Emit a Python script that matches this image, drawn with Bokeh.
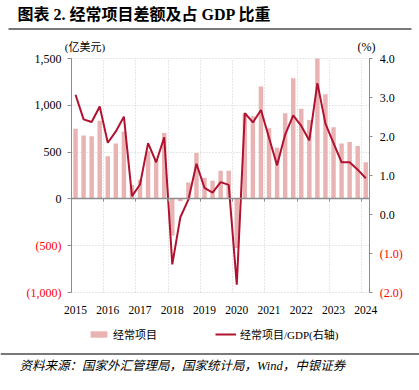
from bokeh.plotting import figure
from bokeh.models import (ColumnDataSource, Range1d, LinearAxis, FixedTicker,
                          Label, Legend, LegendItem, BoxAnnotation)
from bokeh.embed import file_html
from bokeh.resources import INLINE

# ---------------- data ----------------
years = ["2015", "2016", "2017", "2018", "2019", "2020", "2021", "2022", "2023", "2024"]
quarters = list(range(37))  # 2015Q1 .. 2024Q1
current_account = [750, 678, 670, 835, 455, 592, 720, 148,
                   205, 510, 420, 703, -390, -25, 175, 490,
                   225, 193, 301, 301, -525, 916, 884, 1201,
                   756, 547, 916, 1289, 964, 844, 1500, 1118,
                   766, 591, 609, 566, 392]
ca_gdp = [3.07, 2.44, 2.37, 2.77, 1.84, 2.13, 2.51, 0.47,
          0.77, 1.83, 1.34, 1.98, -1.28, -0.07, 0.38, 1.30,
          0.68, 0.56, 0.83, 0.76, -1.80, 2.60, 2.36, 2.68,
          1.97, 1.26, 2.05, 2.54, 2.27, 1.90, 3.37, 2.33,
          1.83, 1.34, 1.34, 1.15, 0.93]
left_ticks = [-1000, -500, 0, 500, 1000, 1500]
left_labels = ["(1,000)", "(500)", "0", "500", "1,000", "1,500"]
right_ticks = [-2, -1, 0, 1, 2, 3, 4]
right_labels = ["(2.0)", "(1.0)", "0.0", "1.0", "2.0", "3.0", "4.0"]

TITLE = "图表 2. 经常项目差额及占 GDP 比重"
SOURCE = "资料来源：国家外汇管理局，国家统计局，Wind，中银证券"

# ---------------- styling / layout ----------------
SERIF = "Liberation Serif"
CJK = "'Liberation Serif', 'Noto Sans CJK SC'"
BAR_COLOR = "#E9B3B3"
LINE_COLOR = "#B0122F"
AXIS_COLOR = "#8c8c8c"
GRID_COLOR = "#cfcfcf"
RULE_COLOR = "#4d4d4d"

FIG_W, FIG_H = 419, 390
# pixel box of the data area inside the figure (from figure top-left)
PX_L, PX_R, PX_T, PX_B = 71.0, 369.3, 58.0, 292.0

X0, X1 = -0.5, len(quarters) - 0.5
Y0, Y1 = left_ticks[0], left_ticks[-1]
P0, P1 = right_ticks[0], right_ticks[-1]
sx = (X1 - X0) / (PX_R - PX_L)
sy = (Y1 - Y0) / (PX_B - PX_T)
sp = (P1 - P0) / (PX_B - PX_T)


def x_at(px):
    return X0 + (px - PX_L) * sx


def y_at(py):
    return Y1 + (PX_T - py) * sy


year_pos = [4 * k for k in range(len(years))]
year_bounds = [4 * k - 0.5 for k in range(1, len(years))]

src = ColumnDataSource(dict(x=quarters, ca=current_account, pct=ca_gdp))

p = figure(width=FIG_W, height=FIG_H,
           x_range=Range1d(x_at(0), x_at(FIG_W)),
           y_range=Range1d(y_at(FIG_H), y_at(0)),
           output_backend="svg", toolbar_location=None,
           min_border_left=0, min_border_right=0, min_border_top=0, min_border_bottom=0,
           outline_line_color=None, background_fill_color="white", border_fill_color="white")
p.extra_y_ranges = {"pct": Range1d(P0 - (FIG_H - PX_B) * sp, P1 + PX_T * sp)}

# grids (dotted)
p.ygrid.ticker = FixedTicker(ticks=[t for t in left_ticks if t != 0])
p.xgrid.ticker = FixedTicker(ticks=year_bounds)
for g in (p.xgrid[0], p.ygrid[0]):
    g.grid_line_color = GRID_COLOR
    g.grid_line_dash = "1 2"
p.ygrid[0].cross_bounds = (X0, X1)
p.xgrid[0].cross_bounds = (Y0, Y1)

# bars and line
bars = p.vbar(x="x", top="ca", width=0.55, source=src, fill_color=BAR_COLOR, line_color=None)
ln = p.line(x="x", y="pct", source=src, y_range_name="pct", line_color=LINE_COLOR, line_width=2)

# zero axis with year-boundary ticks
xa = p.xaxis[0]
xa.fixed_location = 0
xa.bounds = (X0, X1)
xa.ticker = FixedTicker(ticks=year_bounds)
xa.major_label_overrides = {b: "" for b in year_bounds}
xa.axis_line_color = AXIS_COLOR
xa.axis_line_width = 1.6
xa.major_tick_line_color = AXIS_COLOR
xa.minor_tick_line_color = None
xa.major_tick_out = 3
xa.major_tick_in = 0

# year labels axis at bottom of data area
ya_years = LinearAxis(fixed_location=Y0, ticker=FixedTicker(ticks=year_pos),
                      major_label_overrides={pos: y for pos, y in zip(year_pos, years)},
                      axis_line_color=None, major_tick_line_color=None, minor_tick_line_color=None,
                      major_tick_out=0, major_tick_in=0, major_label_standoff=13,
                      major_label_text_font=SERIF, major_label_text_font_size="11.5px",
                      major_label_text_color="#000000")
p.add_layout(ya_years, "below")

# horizontal rules: under the title (box annotation) and above the source (line)
p.add_layout(BoxAnnotation(left=x_at(8), right=x_at(411), top=y_at(27.8), bottom=y_at(29.2),
                           fill_color=RULE_COLOR, fill_alpha=1.0, line_color=None,
                           level="overlay"))
p.line(x=[x_at(0), x_at(FIG_W)], y=[y_at(353.5), y_at(353.5)],
       line_color=RULE_COLOR, line_width=1.5)

# left axis
ya = p.yaxis[0]
ya.fixed_location = X0
ya.bounds = (Y0, Y1)
ya.ticker = FixedTicker(ticks=left_ticks)
ya.major_label_overrides = {t: (s if t >= 0 else "") for t, s in zip(left_ticks, left_labels)}
ya.axis_line_color = AXIS_COLOR
ya.major_tick_line_color = AXIS_COLOR
ya.minor_tick_line_color = None
ya.major_tick_out = 4
ya.major_tick_in = 0
ya.major_label_standoff = 6
ya.major_label_text_font = SERIF
ya.major_label_text_font_size = "12px"
ya.major_label_text_color = "#000000"

# right axis
ra = LinearAxis(y_range_name="pct", fixed_location=X1, bounds=(P0, P1),
                ticker=FixedTicker(ticks=right_ticks))
ra.major_label_overrides = {t: (s if t >= 0 else "") for t, s in zip(right_ticks, right_labels)}
ra.axis_line_color = AXIS_COLOR
ra.major_tick_line_color = AXIS_COLOR
ra.minor_tick_line_color = None
ra.major_tick_out = 3
ra.major_tick_in = 0
ra.major_label_standoff = 7
ra.major_label_text_font = SERIF
ra.major_label_text_font_size = "12px"
ra.major_label_text_color = "#000000"
p.add_layout(ra, "right")

# red negative tick labels
for t, s in zip(left_ticks, left_labels):
    if t < 0:
        p.add_layout(Label(x=X0, y=t, x_offset=-10, text=s,
                           text_align="right", text_baseline="middle", text_color="#FF0000",
                           text_font=SERIF, text_font_size="12px"))
for t, s in zip(right_ticks, right_labels):
    if t < 0:
        p.add_layout(Label(x=X1, y=t, x_offset=10, y_range_name="pct",
                           text=s, text_align="left", text_baseline="middle", text_color="#FF0000",
                           text_font=SERIF, text_font_size="12px"))

# unit labels (screen units: from the bottom-left of the figure)
p.add_layout(Label(x=84.5, y=FIG_H - 46, x_units="screen", y_units="screen", text="(亿美元)",
                   text_align="center", text_baseline="middle", text_color="#000000",
                   text_font=CJK, text_font_size="11px"))
p.add_layout(Label(x=366, y=FIG_H - 46, x_units="screen", y_units="screen", text="(%)",
                   text_align="center", text_baseline="middle", text_color="#000000",
                   text_font=SERIF, text_font_size="12px"))

# title and source
p.add_layout(Label(x=17, y=FIG_H - 14, x_units="screen", y_units="screen", text=TITLE,
                   text_align="left", text_baseline="middle", text_color="#000000",
                   text_font=CJK, text_font_size="16px", text_font_style="bold"))
p.add_layout(Label(x=19, y=FIG_H - 365, x_units="screen", y_units="screen", text=SOURCE,
                   text_align="left", text_baseline="middle", text_color="#000000",
                   text_font=CJK, text_font_size="12.5px", text_font_style="italic"))

# legend
legend = Legend(items=[LegendItem(label="经常项目", renderers=[bars]),
                       LegendItem(label="经常项目/GDP(右轴)", renderers=[ln])],
                location=(88, FIG_H - 342), orientation="horizontal", padding=0, margin=0,
                spacing=58, glyph_width=21, glyph_height=8, label_height=12,
                label_standoff=4, label_text_font=CJK, label_text_font_size="11px",
                label_text_color="#000000", border_line_color=None, background_fill_alpha=0)
p.add_layout(legend, "center")

open("out.html", "w").write(file_html(p, INLINE))
